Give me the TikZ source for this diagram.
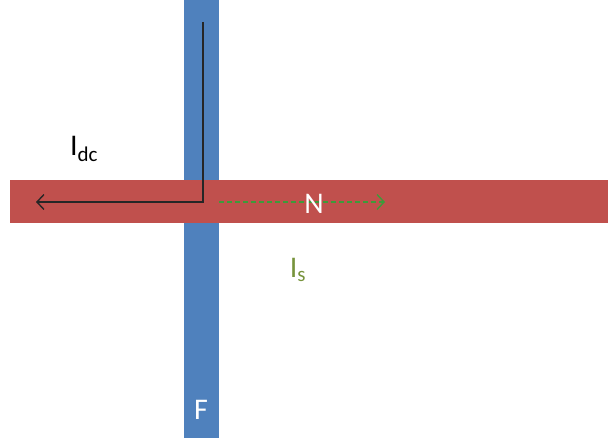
\documentclass[tikz,border=0pt]{standalone}
\usepackage{fontspec}
\setmainfont{Carlito}
\usetikzlibrary{arrows.meta}
\definecolor{barblue}{HTML}{4F81BD}
\definecolor{barred}{HTML}{C0504D}
\definecolor{flowgreen}{HTML}{3E9A3A}
\definecolor{labelgreen}{HTML}{77933C}
\begin{document}
\begin{tikzpicture}[
  x=1pt, y=-1pt,
  lbl/.style={font=\fontsize{30}{30}\selectfont, inner sep=0pt},
  dcflow/.style={-{Straight Barb[length=7pt, width=15pt]}, line width=1.4pt, black!85},
  sflow/.style={-{Straight Barb[length=7pt, width=15pt]}, line width=1.4pt, flowgreen,
    dash pattern=on 5pt off 3pt}
]
\useasboundingbox (0,0) rectangle (608,441);
\fill[barblue] (184,0) rectangle (219,438);
\fill[barred] (10,180) rectangle (608,223);
\coordinate (dctop) at (203,22);
\coordinate (dccorner) at (203,202);
\coordinate (dcend) at (36,202);
\coordinate (sstart) at (219,202);
\coordinate (send) at (385,202);
\draw[dcflow] (dctop) -- (dccorner) -- (dcend);
\draw[sflow] (sstart) -- (send);
\node[lbl, text=white] (n) at (314,204) {N};
\node[lbl, text=white] (f) at (201,410) {F};
\node[lbl] (idc) at (84,149) {I\textsubscript{dc}};
\node[lbl, text=labelgreen] (is) at (298,270) {I\textsubscript{s}};
\end{tikzpicture}
\end{document}
